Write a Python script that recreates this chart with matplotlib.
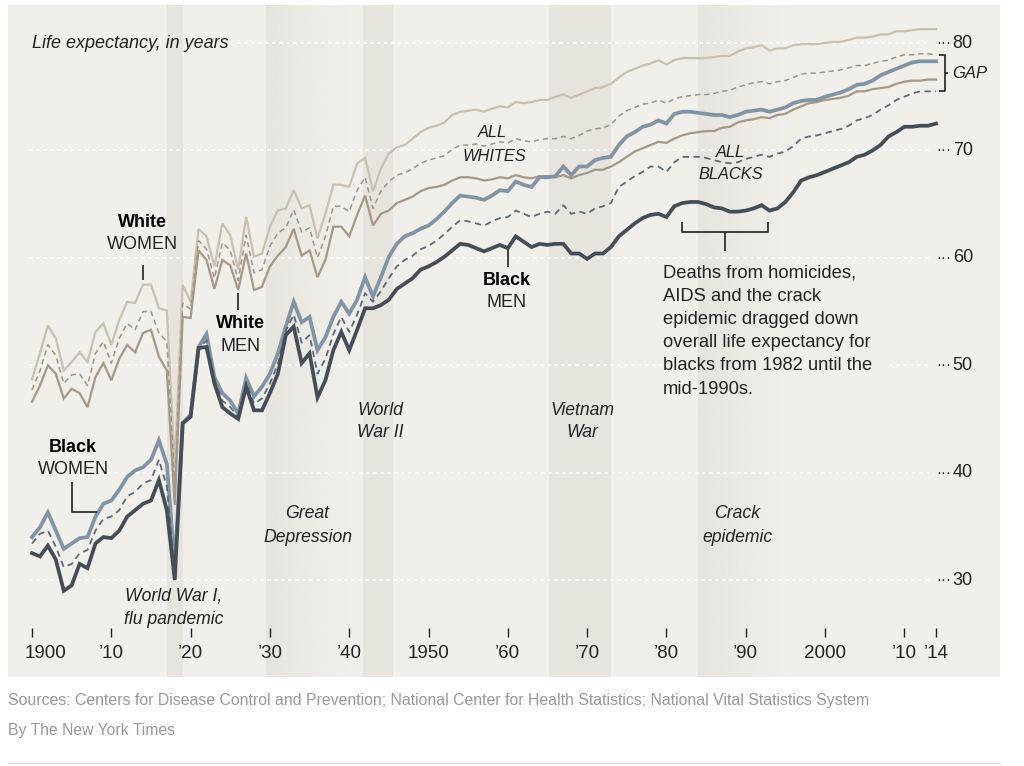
import numpy as np
import matplotlib
matplotlib.use("Agg")
import matplotlib.pyplot as plt
from matplotlib.colors import to_rgb

plt.rcParams['font.family'] = ['Liberation Sans', 'DejaVu Sans']

# life expectancy at birth, 1900-2014
years = np.arange(1900, 2015)

white_women = [
    48.7, 51.1, 53.7, 52.5, 49.5, 50.3, 51.2, 50.3, 53.1, 53.9,
    51.9, 54.2, 55.9, 55.8, 57.5, 57.5, 55.3, 55.1, 40.5, 57.5,
    55.9, 62.7, 62.0, 59.2, 63.2, 62.1, 58.9, 63.8, 60.1, 60.4,
    62.9, 64.4, 64.6, 66.3, 64.6, 64.9, 61.8, 64.1, 66.8, 66.8,
    66.6, 68.8, 69.3, 66.2, 68.3, 69.7, 70.3, 70.5, 71.1, 71.7,
    72.1, 72.3, 72.6, 73.3, 73.6, 73.7, 73.8, 73.6, 73.9, 74.1,
    74.0, 74.5, 74.4, 74.5, 74.7, 74.7, 75.0, 75.2, 74.9, 75.2,
    75.5, 75.8, 75.9, 76.2, 76.8, 77.3, 77.6, 77.9, 78.1, 78.4,
    78.0, 78.4, 78.6, 78.6, 78.6, 78.6, 78.7, 78.8, 78.8, 79.2,
    79.5, 79.6, 79.8, 79.3, 79.5, 79.5, 79.8, 79.9, 79.9, 79.9,
    80.0, 80.1, 80.1, 80.3, 80.5, 80.5, 80.6, 80.8, 80.8, 81.1,
    81.1, 81.2, 81.3, 81.3, 81.3]

all_whites = [
    47.7, 49.5, 51.9, 50.9, 48.3, 49.1, 49.2, 48.1, 51.1, 52.2,
    50.2, 52.5, 53.9, 53.3, 55.0, 55.0, 53.0, 52.2, 38.8, 55.8,
    55.2, 61.6, 60.8, 58.1, 61.4, 60.7, 57.9, 62.1, 58.6, 58.9,
    61.1, 62.3, 62.8, 64.5, 62.4, 62.8, 60.0, 62.0, 64.8, 64.8,
    64.3, 66.3, 67.5, 64.6, 66.2, 67.1, 67.7, 67.9, 68.3, 68.8,
    69.1, 69.3, 69.5, 70.1, 70.5, 70.5, 70.6, 70.4, 70.6, 70.8,
    70.7, 71.1, 70.9, 70.8, 71.0, 71.1, 71.1, 71.3, 71.1, 71.4,
    71.8, 72.0, 72.1, 72.4, 73.2, 73.7, 74.0, 74.3, 74.4, 74.7,
    74.4, 74.8, 75.0, 75.1, 75.2, 75.2, 75.3, 75.5, 75.6, 75.9,
    76.1, 76.3, 76.4, 76.2, 76.4, 76.5, 76.8, 77.1, 77.2, 77.2,
    77.3, 77.4, 77.5, 77.7, 77.9, 77.9, 78.1, 78.3, 78.4, 78.7,
    78.9, 78.9, 79.0, 79.0, 78.9]

white_men = [
    46.6, 48.1, 50.0, 49.2, 46.9, 47.8, 47.4, 46.1, 48.9, 50.2,
    48.6, 50.6, 51.9, 51.2, 53.0, 53.3, 50.8, 49.5, 37.0, 54.5,
    54.4, 60.7, 59.8, 57.1, 59.8, 59.3, 57.0, 60.4, 57.0, 57.3,
    59.2, 60.2, 61.0, 62.7, 60.2, 60.7, 58.2, 59.8, 62.9, 62.9,
    62.0, 64.0, 65.8, 63.0, 64.1, 64.4, 65.1, 65.4, 65.7, 66.2,
    66.5, 66.6, 66.8, 67.2, 67.5, 67.5, 67.4, 67.2, 67.3, 67.5,
    67.4, 67.7, 67.5, 67.4, 67.6, 67.6, 67.5, 67.7, 67.4, 67.7,
    67.9, 68.2, 68.2, 68.5, 68.9, 69.4, 69.9, 70.2, 70.5, 70.8,
    70.7, 71.1, 71.4, 71.6, 71.7, 71.8, 71.8, 72.1, 72.2, 72.6,
    72.8, 72.9, 73.1, 73.0, 73.3, 73.4, 73.8, 74.1, 74.4, 74.5,
    74.7, 74.8, 74.9, 75.1, 75.5, 75.5, 75.7, 75.8, 75.9, 76.2,
    76.4, 76.5, 76.5, 76.6, 76.6]

black_women = [
    34.0, 34.9, 36.3, 34.6, 32.9, 33.4, 33.9, 34.0, 35.9, 37.1,
    37.4, 38.4, 39.6, 40.2, 40.5, 41.2, 43.0, 40.8, 31.2, 44.6,
    45.4, 51.7, 52.9, 48.9, 47.4, 46.7, 45.5, 48.8, 47.1, 48.0,
    49.2, 51.1, 53.6, 55.9, 54.0, 54.5, 51.4, 52.6, 54.5, 55.9,
    54.8, 56.1, 58.2, 56.4, 58.2, 60.1, 61.3, 62.0, 62.3, 62.7,
    63.0, 63.6, 64.3, 65.1, 65.8, 65.7, 65.6, 65.4, 65.8, 66.3,
    66.2, 67.1, 66.8, 66.6, 67.5, 67.5, 67.6, 68.5, 67.7, 68.5,
    68.5, 69.1, 69.3, 69.4, 70.5, 71.3, 71.7, 72.2, 72.4, 72.8,
    72.5, 73.4, 73.6, 73.6, 73.5, 73.4, 73.3, 73.3, 73.1, 73.3,
    73.6, 73.7, 73.8, 73.6, 73.8, 74.0, 74.4, 74.6, 74.7, 74.7,
    75.0, 75.2, 75.4, 75.7, 76.1, 76.2, 76.5, 77.0, 77.3, 77.6,
    77.9, 78.2, 78.3, 78.3, 78.3]

all_blacks = [
    33.4, 34.3, 34.6, 33.1, 31.2, 31.5, 32.5, 32.8, 34.6, 35.7,
    35.9, 36.5, 37.8, 38.2, 39.0, 39.3, 41.2, 38.7, 30.6, 44.5,
    45.3, 51.6, 52.3, 48.6, 46.7, 46.1, 45.2, 48.4, 46.4, 46.9,
    48.3, 50.1, 53.2, 54.7, 52.1, 52.8, 49.2, 50.6, 52.9, 54.5,
    53.1, 54.7, 56.7, 55.9, 56.9, 58.1, 59.2, 59.8, 60.2, 60.8,
    61.1, 61.6, 62.2, 62.9, 63.5, 63.4, 63.2, 63.0, 63.4, 63.7,
    63.8, 64.4, 64.1, 63.8, 64.1, 64.3, 64.1, 64.9, 64.1, 64.3,
    64.1, 64.6, 64.8, 65.1, 66.6, 67.1, 67.6, 68.0, 68.5, 68.5,
    68.0, 68.9, 69.4, 69.4, 69.4, 69.3, 69.1, 68.9, 68.8, 68.9,
    69.2, 69.4, 69.6, 69.4, 69.7, 69.9, 70.4, 71.1, 71.3, 71.4,
    71.6, 71.8, 72.0, 72.3, 72.8, 73.0, 73.3, 73.8, 74.2, 74.7,
    75.0, 75.3, 75.5, 75.5, 75.5]

black_men = [
    32.5, 32.2, 33.2, 31.9, 29.0, 29.5, 31.5, 31.1, 33.4, 34.0,
    33.9, 34.6, 35.9, 36.5, 37.1, 37.4, 39.3, 36.5, 30.0, 44.6,
    45.2, 51.6, 51.7, 48.3, 46.1, 45.5, 45.0, 48.0, 45.8, 45.8,
    47.4, 49.2, 52.8, 53.6, 50.2, 51.1, 47.0, 48.6, 51.4, 53.1,
    51.4, 53.3, 55.3, 55.3, 55.6, 56.1, 57.1, 57.6, 58.1, 58.9,
    59.2, 59.6, 60.1, 60.7, 61.3, 61.2, 60.9, 60.6, 60.9, 61.2,
    60.9, 62.0, 61.5, 61.0, 61.3, 61.2, 61.3, 61.3, 60.4, 60.4,
    59.9, 60.4, 60.4, 61.0, 62.0, 62.6, 63.2, 63.7, 64.0, 64.1,
    63.8, 64.8, 65.1, 65.2, 65.2, 65.0, 64.7, 64.6, 64.3, 64.3,
    64.4, 64.6, 64.9, 64.4, 64.6, 65.2, 66.1, 67.2, 67.5, 67.7,
    68.0, 68.3, 68.6, 68.9, 69.4, 69.6, 70.0, 70.5, 71.3, 71.7,
    72.2, 72.2, 72.3, 72.3, 72.5]

# shaded periods: start, end, fades out to the right?
periods = [(1917.0, 1919.0, False), (1929.5, 1940.0, True),
           (1941.75, 1945.5, False), (1965.2, 1973.0, False),
           (1984.0, 1996.0, True)]

grid_values = [30, 40, 50, 60, 70, 80]
tick_years = [1900, 1910, 1920, 1930, 1940, 1950, 1960, 1970, 1980,
              1990, 2000, 2010, 2014]
tick_labels = ['1900', '\u201910', '\u201920', '\u201930', '\u201940', '1950',
               '\u201960', '\u201970', '\u201980', '\u201990', '2000',
               '\u201910', '\u201914']

PANEL = '#f1efe9'
BAND = '#e6e4dd'
INK = '#222222'

fig = plt.figure(figsize=(10.24, 7.66), dpi=100)
ax = fig.add_axes([8 / 1024, 1 - 677 / 766, 992 / 1024, 672 / 766])
ax.set_facecolor(PANEL)
for s in ax.spines.values():
    s.set_visible(False)
ax.set_xticks([])
ax.set_yticks([])
XMIN, XMAX = 1896.97, 2022.07
YMIN, YMAX = 20.97, 83.54

# bands
for x0, x1, fade in periods:
    if fade:
        grad = np.zeros((1, 256, 4))
        grad[..., :3] = to_rgb(BAND)
        grad[..., 3] = np.linspace(1, 0, 256) ** 1.3
        ax.imshow(grad, extent=(x0, x1, YMIN, YMAX), aspect='auto',
                  interpolation='bilinear', zorder=1)
    else:
        ax.axvspan(x0, x1, color=BAND, lw=0, zorder=1)

# dotted white grid, broken where text sits on it
g0, g1 = 1899.75, 2013.1
grid_segments = [(30, g0, g1), (40, 1909.6, g1), (50, g0, 1979.3),
                 (50, 2008.2, g1), (60, g0, g1), (70, g0, g1),
                 (80, 1926.0, g1)]
for v, a, b in grid_segments:
    ax.plot([a, b], [v, v], color='white', lw=1.4,
            ls=(0, (1, 2.6)), dash_capstyle='round', zorder=2)

for v in grid_values:
    ax.text(2014.0, v, '\u00b7\u00b7\u00b7', fontsize=11, color=INK,
            ha='left', va='center', zorder=5)
    ax.text(2016.1, v, str(v), fontsize=13, color=INK, ha='left',
            va='center', zorder=5)

# lines
series = [
    (white_women, '#cac0b0', 1.6, '-'),
    (all_whites, '#9c958b', 1.1, (0, (3.5, 2.5))),
    (white_men, '#a59886', 1.6, '-'),
    (black_women, '#8194a5', 2.7, '-'),
    (all_blacks, '#5c6978', 1.3, (0, (3.5, 2.5))),
    (black_men, '#454e58', 2.7, '-'),
]
for vals, c, lw, ls in series:
    ax.plot(years, vals, color=c, lw=lw, ls=ls, zorder=3,
            solid_joinstyle='miter', dash_capstyle='butt')

# x axis ticks
ax.vlines(tick_years, 24.69, 25.53, color=INK, lw=1, zorder=4)
for yr, lab in zip(tick_years, tick_labels):
    if yr == 1900:
        ax.text(1899.12, 23.2, lab, fontsize=13.5, color=INK, ha='left',
                va='center')
    else:
        ax.text(yr, 23.2, lab, fontsize=13.5, color=INK, ha='center',
                va='center')

ax.text(1900.0, 80.0, 'Life expectancy, in years', fontsize=13,
        style='italic', color=INK, ha='left', va='center')

def label(x, y, top, bottom):
    ax.text(x, y, top, fontsize=13, weight='bold', color='black',
            ha='center', va='center', zorder=5)
    ax.text(x, y - 2.13, bottom, fontsize=13, color=INK, ha='center',
            va='center', zorder=5)

label(1913.9, 63.33, 'White', 'WOMEN')
label(1926.35, 53.84, 'White', 'MEN')
label(1905.17, 42.38, 'Black', 'WOMEN')
label(1959.9, 57.93, 'Black', 'MEN')

lk = dict(color=INK, lw=1.2, zorder=4, solid_capstyle='butt')
ax.plot([1914.0, 1914.0], [59.3, 57.9], **lk)
ax.plot([1926.0, 1926.0], [56.7, 55.1], **lk)
ax.plot([1905.04, 1905.04, 1908.2], [39.13, 36.33, 36.33], **lk)
ax.plot([1960.0, 1960.0], [60.7, 59.1], **lk)

ital = dict(fontsize=12.7, style='italic', color=INK, ha='center',
            va='center', zorder=5)
caps = dict(ital, fontsize=11.8)
ax.text(1958.1, 71.71, 'ALL', **caps)
ax.text(1958.3, 69.48, 'WHITES', **caps)
ax.text(1988.1, 69.85, 'ALL', **caps)
ax.text(1988.1, 67.80, 'BLACKS', **caps)

ax.text(1917.8, 28.51, 'World War I,', **ital)
ax.text(1917.9, 26.37, 'flu pandemic', **ital)
ax.text(1934.74, 36.15, 'Great', **ital)
ax.text(1934.74, 34.0, 'Depression', **ital)
ax.text(1943.88, 45.83, 'World', **ital)
ax.text(1943.88, 43.69, 'War II', **ital)
ax.text(1969.42, 45.76, 'Vietnam', **ital)
ax.text(1969.42, 43.69, 'War', **ital)
ax.text(1988.97, 36.15, 'Crack', **ital)
ax.text(1988.97, 34.0, 'epidemic', **ital)

# crack-era bracket and note
ax.plot([1981.97, 1981.97, 1992.81, 1992.81], [63.33, 62.4, 62.4, 63.33], **lk)
ax.plot([1987.4, 1987.4], [62.4, 60.63], **lk)
note = ['Deaths from homicides,', 'AIDS and the crack',
        'epidemic dragged down', 'overall life expectancy for',
        'blacks from 1982 until the', 'mid-1990s.']
for i, line in enumerate(note):
    ax.text(1979.57, 58.58 - i * 2.16, line, fontsize=13.2, color=INK,
            ha='left', va='center', zorder=5)

# gap bracket
top, bot = all_whites[-1], all_blacks[-1]
mid = (top + bot) / 2
ax.plot([2014.35, 2015.13, 2015.13, 2014.35], [top, top, bot, bot],
        clip_on=False, **lk)
ax.plot([2015.13, 2015.45], [mid, mid], **lk)
ax.text(2016.1, mid, 'GAP', fontsize=12, style='italic', color=INK,
        ha='left', va='center')

ax.set_xlim(XMIN, XMAX)
ax.set_ylim(YMIN, YMAX)

fig.text(8 / 1024, 1 - 701 / 766, 'Sources: Centers for Disease Control and '
         'Prevention; National Center for Health Statistics; National Vital '
         'Statistics System', fontsize=11.4, color='#999999', ha='left',
         va='center')
fig.text(8 / 1024, 1 - 731 / 766, 'By The New York Times', fontsize=11.3,
         color='#999999', ha='left', va='center')
fig.add_artist(plt.Line2D([8 / 1024, 1000 / 1024], [1 - 763 / 766] * 2,
                          color='#dddddd', lw=1, transform=fig.transFigure))

fig.savefig('out.png', dpi=100, facecolor='white')
